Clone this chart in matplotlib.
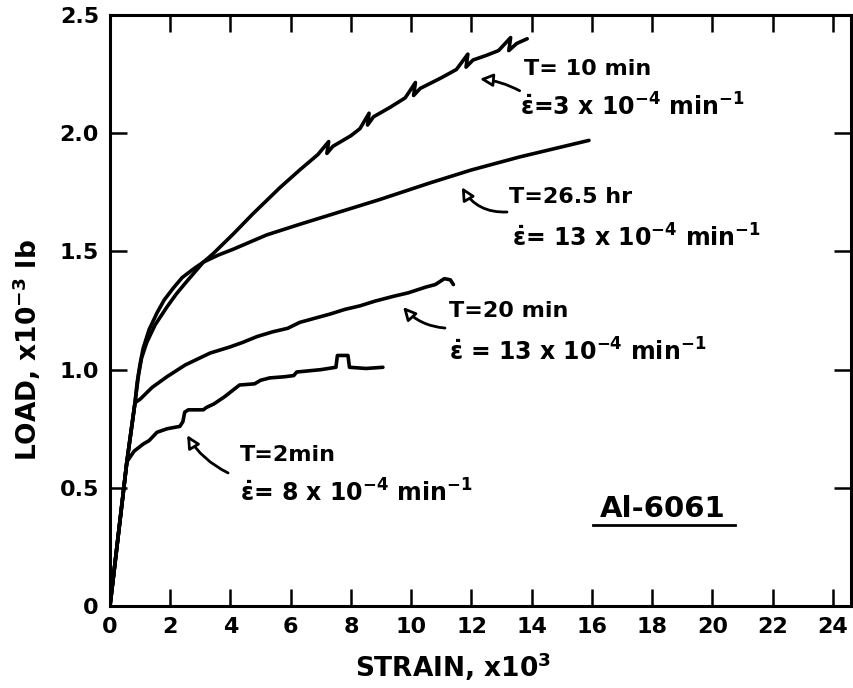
import matplotlib
matplotlib.use("Agg")
import matplotlib.pyplot as plt
from matplotlib.patches import FancyArrowPatch

plt.rcParams["font.family"] = ["DejaVu Sans"]
plt.rcParams["font.weight"] = "bold"
plt.rcParams["mathtext.fontset"] = "custom"
plt.rcParams["mathtext.rm"] = "DejaVu Sans:bold"
plt.rcParams["mathtext.it"] = "DejaVu Sans:bold"
plt.rcParams["mathtext.bf"] = "DejaVu Sans:bold"

# Load-strain records for Al-6061 (strain x10^3, load x10^-3 lb)
strain_10min = [0, 0.56, 0.83, 0.95, 1.05, 1.22, 1.5, 1.89, 2.2, 2.56, 3.1, 3.42,
                4.1, 4.75, 5.64, 6.3, 6.9, 7.26, 7.2, 7.4, 8.0, 8.3, 8.6, 8.55,
                8.75, 9.3, 9.8, 10.14, 10.08, 10.3, 11.0, 11.5, 11.88, 11.82, 12.05, 12.5,
                12.9, 13.3, 13.24, 13.5, 13.85]
load_10min = [0, 0.61, 0.86, 0.98, 1.05, 1.115, 1.19, 1.265, 1.32, 1.375, 1.455, 1.49,
              1.575, 1.66, 1.77, 1.845, 1.91, 1.965, 1.915, 1.945, 1.99, 2.02, 2.085, 2.035,
              2.07, 2.11, 2.15, 2.215, 2.16, 2.19, 2.235, 2.27, 2.335, 2.28, 2.31, 2.33,
              2.35, 2.405, 2.35, 2.38, 2.40]

strain_26hr = [0, 0.56, 0.83, 0.9, 1.0, 1.1, 1.3, 1.56, 1.8, 2.1, 2.4, 2.76,
               3.1, 3.6, 4.1, 5.2, 6.3, 8.96, 10.62, 12.0, 13.6, 15.9]
load_26hr = [0, 0.61, 0.86, 0.945, 1.025, 1.09, 1.17, 1.24, 1.295, 1.345, 1.39, 1.425,
             1.455, 1.485, 1.51, 1.57, 1.615, 1.72, 1.79, 1.845, 1.90, 1.97]

strain_20min = [0, 0.56, 0.83, 1.0, 1.4, 1.89, 2.5, 3.32, 3.98, 4.4, 4.88, 5.4,
                5.9, 6.3, 6.87, 7.3, 7.8, 8.3, 8.8, 9.4, 9.9, 10.5, 10.8, 11.1,
                11.3, 11.4]
load_20min = [0, 0.61, 0.86, 0.875, 0.925, 0.97, 1.02, 1.07, 1.096, 1.115, 1.14, 1.16,
              1.175, 1.20, 1.22, 1.235, 1.255, 1.27, 1.29, 1.31, 1.325, 1.35, 1.36, 1.385,
              1.38, 1.36]

strain_2min = [0, 0.56, 0.8, 1.1, 1.3, 1.56, 1.9, 2.32, 2.42, 2.48, 2.6, 3.1,
               3.2, 3.45, 3.8, 4.3, 4.8, 5.0, 5.3, 5.8, 6.1, 6.2, 7.0, 7.5,
               7.55, 7.9, 7.95, 8.5, 9.06]
load_2min = [0, 0.61, 0.655, 0.685, 0.70, 0.735, 0.75, 0.76, 0.78, 0.82, 0.83, 0.83,
             0.84, 0.855, 0.885, 0.935, 0.94, 0.955, 0.965, 0.97, 0.975, 0.99, 1.0, 1.01,
             1.06, 1.06, 1.01, 1.005, 1.01]

x_ticks = [0, 2, 4, 6, 8, 10, 12, 14, 16, 18, 20, 22, 24]
x_tick_labels = ["0", "2", "4", "6", "8", "10", "12", "14", "16", "18", "20", "22", "24"]
y_ticks = [0, 0.5, 1.0, 1.5, 2.0, 2.5]
y_tick_labels = ["0", "0.5", "1.0", "1.5", "2.0", "2.5"]

fig = plt.figure(figsize=(8.54, 6.88), dpi=100)
ax = fig.add_axes([0.1288, 0.1192, 0.8677, 0.8588])

line_kw = dict(color="black", lw=2.6, solid_joinstyle="round", solid_capstyle="round")
for sx, sy in [(strain_10min, load_10min), (strain_26hr, load_26hr),
               (strain_20min, load_20min), (strain_2min, load_2min)]:
    ax.plot(sx, sy, **line_kw)

ax.set_xlim(0, 24.6)
ax.set_ylim(0, 2.5)
ax.set_xticks(x_ticks)
ax.set_xticklabels(x_tick_labels)
ax.set_yticks(y_ticks)
ax.set_yticklabels(y_tick_labels)
ax.tick_params(direction="in", length=12, width=1.8, top=True, right=True,
               labelsize=16, pad=8)
for s in ax.spines.values():
    s.set_linewidth(2.2)

ax.set_xlabel(r"STRAIN, x10$^{3}$", fontsize=19, fontweight="bold")
ax.xaxis.set_label_coords(0.463, -0.075)
ax.set_ylabel(r"LOAD, x10$^{-3}$ lb", fontsize=19, fontweight="bold")
ax.yaxis.set_label_coords(-0.09, 0.433)

txt = dict(fontsize=16, fontweight="bold", ha="left", va="baseline")
rate = dict(fontsize=17, fontweight="bold", ha="left", va="baseline")
eps = r"$\dot{\epsilon}$"
ax.text(13.74, 2.246, "T= 10 min", **txt)
ax.text(13.61, 2.077, eps + r"=3 x 10$^{-4}$ min$^{-1}$", **rate)
ax.text(13.25, 1.705, "T=26.5 hr", **txt)
ax.text(13.34, 1.519, eps + r"= 13 x 10$^{-4}$ min$^{-1}$", **rate)
ax.text(11.25, 1.222, "T=20 min", **txt)
ax.text(11.25, 1.04, eps + r" = 13 x 10$^{-4}$ min$^{-1}$", **rate)
ax.text(4.32, 0.613, "T=2min", **txt)
ax.text(4.32, 0.44, eps + r"= 8 x 10$^{-4}$ min$^{-1}$", **rate)

ax.text(16.27, 0.376, "Al-6061", fontsize=21, fontweight="bold", ha="left", va="baseline")
ax.plot([16.03, 20.75], [0.343, 0.343], color="black", lw=2.0)

arrows = [((13.6, 2.18), (12.28, 2.23), 0.1),
          ((13.18, 1.667), (11.68, 1.772), -0.3),
          ((11.12, 1.176), (9.73, 1.265), -0.2),
          ((3.92, 0.563), (2.56, 0.723), -0.15)]
for tail, head, rad in arrows:
    arr = FancyArrowPatch(tail, head, connectionstyle=f"arc3,rad={rad}",
                          arrowstyle="-|>,head_length=5,head_width=2.5",
                          lw=2.0, ec="black", fc="white", mutation_scale=1.5,
                          shrinkA=0, shrinkB=0)
    ax.add_patch(arr)

fig.savefig("out.png", dpi=100)
